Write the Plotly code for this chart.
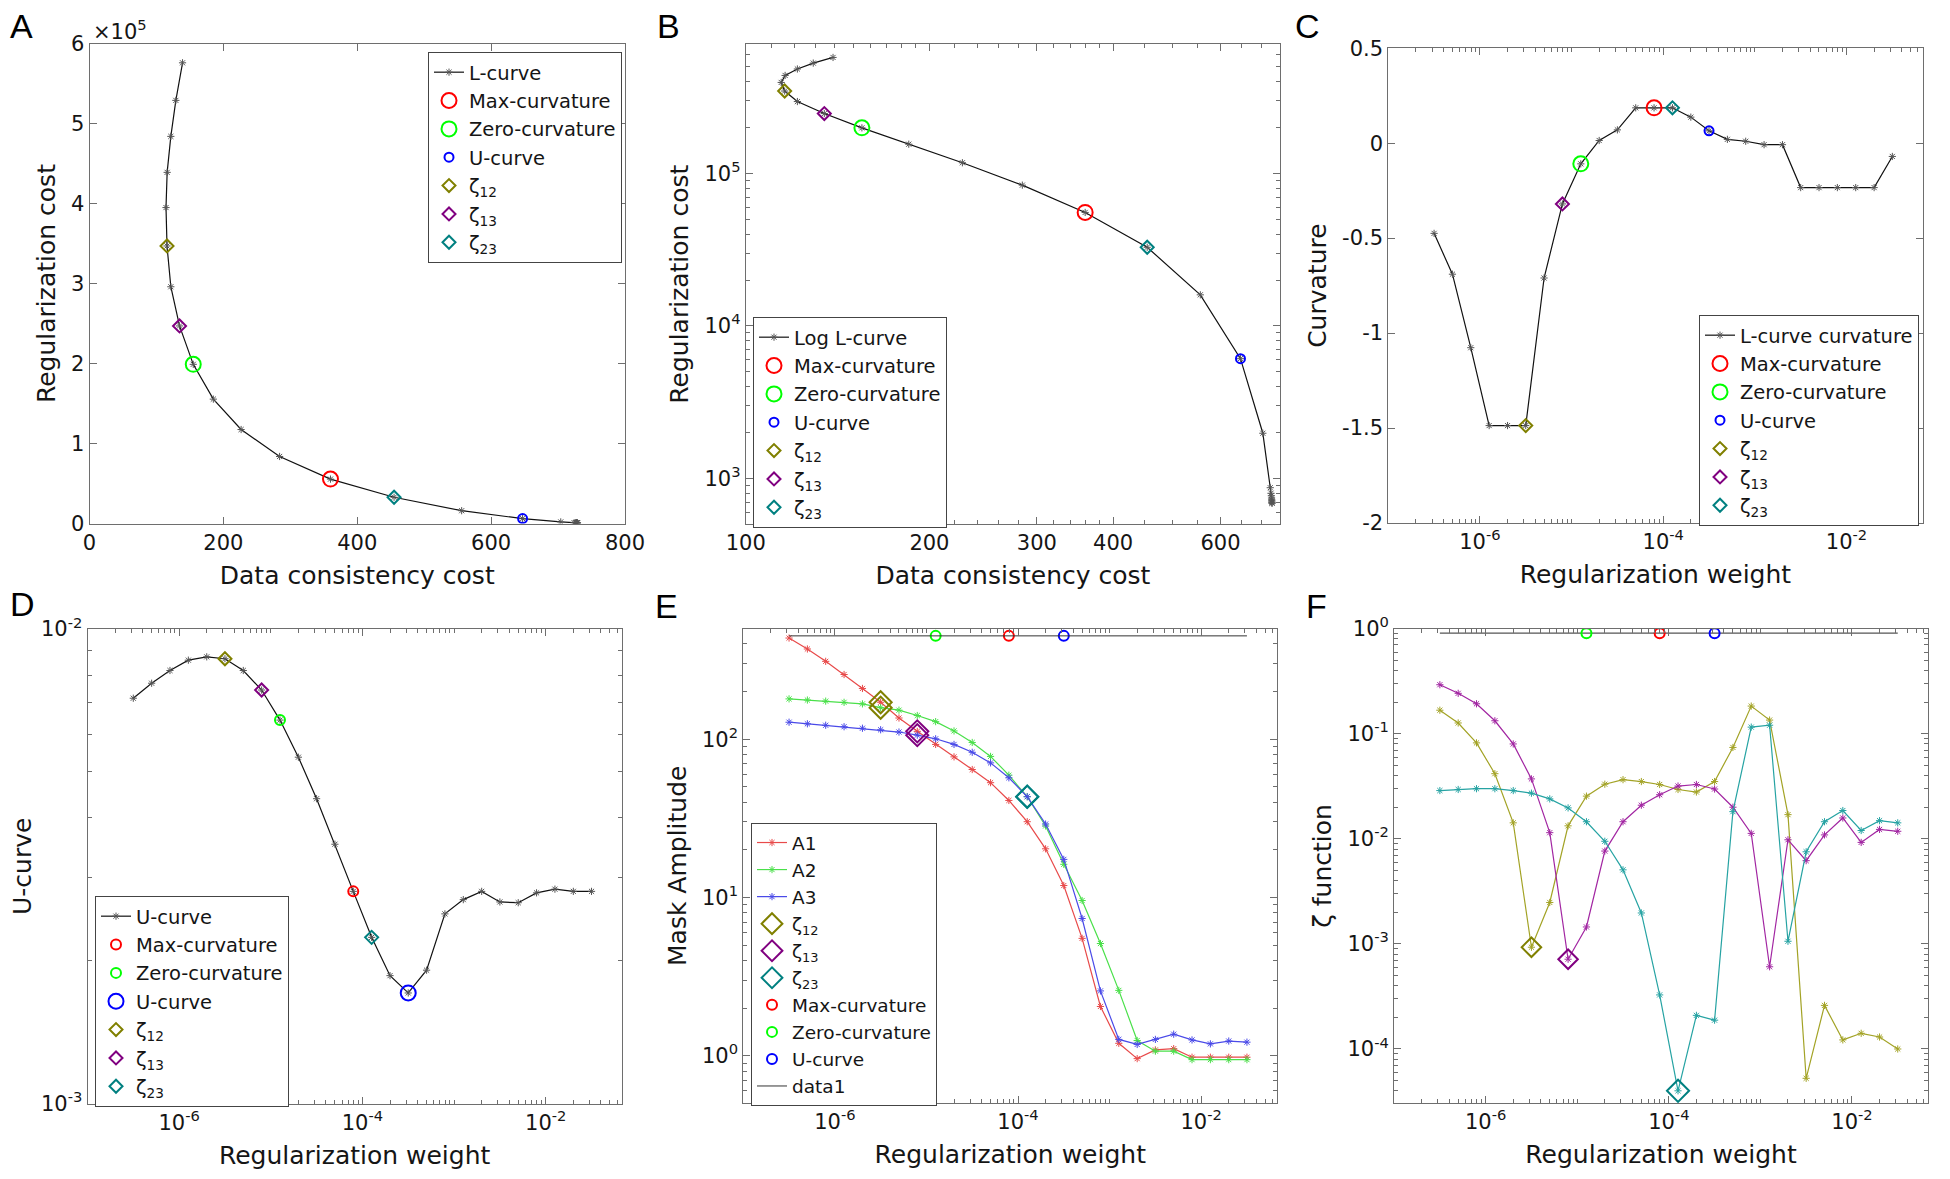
import plotly.graph_objects as go

# ---------------- data ----------------
reg_weight = [3.16e-7, 5.01e-7, 7.94e-7, 1.26e-6, 2.00e-6, 3.16e-6, 5.01e-6, 7.94e-6,
              1.26e-5, 2.00e-5, 3.16e-5, 5.01e-5, 7.94e-5, 1.26e-4, 2.00e-4, 3.16e-4,
              5.01e-4, 7.94e-4, 1.26e-3, 2.00e-3, 3.16e-3, 5.01e-3, 7.94e-3, 1.26e-2,
              2.00e-2, 3.16e-2]

data_cost = [139, 129, 121.5, 116, 114.3, 115.8, 121.5, 134.5, 155, 185, 226.5, 284,
             360, 455, 556, 647, 704, 724, 726, 727, 727.5, 728, 728, 728.5, 728.5, 729]
reg_cost = [5.76e5, 5.29e5, 4.84e5, 4.39e5, 3.95e5, 3.47e5, 2.96e5, 2.47e5, 1.99e5,
            1.555e5, 1.175e5, 8.38e4, 5.55e4, 3.28e4, 1.60e4, 6.1e3, 1.98e3, 870, 800,
            770, 745, 725, 712, 700, 692, 688]

curvature = [-0.475, -0.69, -1.077, -1.487, -1.487, -1.487, -0.71, -0.32, -0.109, 0.014,
             0.07, 0.186, 0.186, 0.186, 0.137, 0.065, 0.02, 0.01, -0.008, -0.008,
             -0.234, -0.234, -0.234, -0.234, -0.234, -0.07]

u_curve = [7.15e-3, 7.69e-3, 8.18e-3, 8.60e-3, 8.74e-3, 8.66e-3, 8.18e-3, 7.44e-3,
           6.43e-3, 5.37e-3, 4.39e-3, 3.52e-3, 2.80e-3, 2.24e-3, 1.86e-3, 1.71e-3,
           1.91e-3, 2.51e-3, 2.69e-3, 2.80e-3, 2.66e-3, 2.65e-3, 2.78e-3, 2.83e-3,
           2.80e-3, 2.80e-3]

amp_A1 = [435, 371, 310, 256, 209, 171, 136, 112, 92.6, 77.3, 64.3, 53.1, 41.0, 30.1,
          20.3, 11.9, 5.52, 2.05, 1.2, 0.96, 1.09, 1.11, 0.98, 0.98, 0.98, 0.98]
amp_A2 = [179.6, 176.6, 173.8, 170.8, 167, 158, 152.4, 141, 129, 112.7, 95.3, 77.8,
          59.2, 43.3, 28.3, 16.2, 9.57, 5.12, 2.59, 1.25, 1.07, 1.07, 0.946, 0.946,
          0.946, 0.946]
amp_A3 = [127.9, 125, 122.4, 119.8, 117.2, 114.6, 110.9, 106, 100.5, 92.6, 82.6, 70.8,
          57, 43.3, 29.1, 17.4, 7.37, 2.57, 1.27, 1.18, 1.27, 1.37, 1.26, 1.19, 1.24,
          1.22]

zeta_12 = [0.1676, 0.1267, 0.0819, 0.0417, 0.0142, 9.3e-4, 2.48e-3, 0.0133, 0.0255,
           0.0331, 0.0366, 0.0351, 0.0329, 0.0295, 0.0279, 0.0351, 0.0741, 0.1835,
           0.135, 0.0170, 5.26e-5, 2.6e-4, 1.22e-4, 1.41e-4, 1.30e-4, 1.0e-4]
zeta_13 = [0.293, 0.2426, 0.193, 0.133, 0.08, 0.0372, 0.01145, 7.15e-4, 1.45e-3,
           7.65e-3, 0.01455, 0.0209, 0.0263, 0.0318, 0.0329, 0.0298, 0.02, 0.01127,
           6.06e-4, 9.8e-3, 6.2e-3, 0.0109, 0.0158, 9.25e-3, 0.0123, 0.0118]
zeta_23 = [0.0288, 0.0295, 0.030, 0.030, 0.0288, 0.0272, 0.024, 0.0197, 0.01455,
           9.48e-3, 5.07e-3, 1.97e-3, 3.27e-4, 4.0e-5, 2.09e-4, 1.88e-4, 0.01815,
           0.1157, 0.1206, 1.06e-3, 7.53e-3, 0.01455, 0.0186, 0.012, 0.0149, 0.0142]

data1_E = 449
data1_F = 0.906

# indices of the selected regularization weights
idx_max_curv = 12
idx_zero_curv = 8
idx_ucurve = 15
idx_z12 = 5
idx_z13 = 7
idx_z23 = 13

# tick labels
a_y_ticks = [0, 1e5, 2e5, 3e5, 4e5, 5e5, 6e5]
a_y_text = ["0", "1", "2", "3", "4", "5", "6"]
a_x_ticks = [0, 200, 400, 600, 800]
b_x_ticks = [100, 200, 300, 400, 600]
b_y_ticks = [1e3, 1e4, 1e5]
b_y_text = ["10<sup>3</sup>", "10<sup>4</sup>", "10<sup>5</sup>"]
w_ticks = [1e-6, 1e-4, 1e-2]
w_text = ["10<sup>-6</sup>", "10<sup>-4</sup>", "10<sup>-2</sup>"]
c_y_ticks = [0.5, 0, -0.5, -1, -1.5, -2]
c_y_text = ["0.5", "0", "-0.5", "-1", "-1.5", "-2"]
d_y_ticks = [1e-3, 1e-2]
d_y_text = ["10<sup>-3</sup>", "10<sup>-2</sup>"]
e_y_ticks = [1, 10, 100]
e_y_text = ["10<sup>0</sup>", "10<sup>1</sup>", "10<sup>2</sup>"]
f_y_ticks = [1e-4, 1e-3, 1e-2, 1e-1, 1]
f_y_text = ["10<sup>-4</sup>", "10<sup>-3</sup>", "10<sup>-2</sup>", "10<sup>-1</sup>", "10<sup>0</sup>"]

# ---------------- styles ----------------
FONT = "DejaVu Sans"
TXT = "#151515"
FRAME = "#6e6e6e"
RED, GREEN, BLUE = "#ff0000", "#00ff00", "#0000ff"
OLIVE, PURPLE, TEAL = "#808000", "#800080", "#008080"
OFF = 8                      # page body margin of the html page
W, H = 1950 - OFF, 1179 - OFF


def logminor(lo_exp, hi_exp):
    vals = []
    for e in range(lo_exp, hi_exp + 1):
        for m in range(1, 10):
            vals.append(m * 10.0 ** e)
    return vals


def lin_minor():
    return list(range(110, 200, 10)) + list(range(220, 400, 20)) + list(range(450, 800, 50))


def ax(domain, title, **kw):
    d = dict(domain=domain, showline=True, linecolor=FRAME, linewidth=1, mirror="ticks",
             ticks="inside", ticklen=7, tickcolor=FRAME, tickwidth=1, automargin=False,
             tickfont=dict(size=21, family=FONT, color=TXT), showgrid=False, zeroline=False,
             title=dict(text=title, font=dict(size=25, family=FONT, color=TXT)))
    d.update(kw)
    return d


def minor(vals):
    return dict(tickmode="array", tickvals=vals, ticks="inside", ticklen=4,
                tickcolor=FRAME, showgrid=False)


fig = go.Figure()


def curve(x, y, name, xa, ya, leg, color="#111111", mcolor="#555555", show=True):
    fig.add_trace(go.Scatter(x=x, y=y, name=name, mode="lines+markers",
                             line=dict(color=color, width=1.2),
                             marker=dict(symbol="asterisk-open", size=6, color=mcolor,
                                         line=dict(color=mcolor, width=1)),
                             xaxis=xa, yaxis=ya, legend=leg, showlegend=show))


def point(x, y, name, xa, ya, leg, symbol, color, size, show=True):
    fig.add_trace(go.Scatter(x=x, y=y, name=name, mode="markers",
                             marker=dict(symbol=symbol, size=size, color=color,
                                         line=dict(color=color, width=2)),
                             xaxis=xa, yaxis=ya, legend=leg, showlegend=show))


def marks_standard(xs, ys, xa, ya, leg, big_circ, small_circ, dsize, ubig=False):
    point([xs[idx_max_curv]], [ys[idx_max_curv]], "Max-curvature", xa, ya, leg,
          "circle-open", RED, small_circ if ubig else big_circ)
    point([xs[idx_zero_curv]], [ys[idx_zero_curv]], "Zero-curvature", xa, ya, leg,
          "circle-open", GREEN, small_circ if ubig else big_circ)
    point([xs[idx_ucurve]], [ys[idx_ucurve]], "U-curve", xa, ya, leg,
          "circle-open", BLUE, big_circ if ubig else small_circ)
    point([xs[idx_z12]], [ys[idx_z12]], "ζ<sub>12</sub>", xa, ya, leg, "diamond-open", OLIVE, dsize)
    point([xs[idx_z13]], [ys[idx_z13]], "ζ<sub>13</sub>", xa, ya, leg, "diamond-open", PURPLE, dsize)
    point([xs[idx_z23]], [ys[idx_z23]], "ζ<sub>23</sub>", xa, ya, leg, "diamond-open", TEAL, dsize)


# Panel A
curve(data_cost, reg_cost, "L-curve", "x", "y", "legend")
marks_standard(data_cost, reg_cost, "x", "y", "legend", 15, 9, 10)
# Panel B
curve(data_cost, reg_cost, "Log L-curve", "x2", "y2", "legend2")
marks_standard(data_cost, reg_cost, "x2", "y2", "legend2", 15, 9, 10)
# Panel C
curve(reg_weight, curvature, "L-curve curvature", "x3", "y3", "legend3")
marks_standard(reg_weight, curvature, "x3", "y3", "legend3", 15, 9, 10)
# Panel D
curve(reg_weight, u_curve, "U-curve", "x4", "y4", "legend4")
marks_standard(reg_weight, u_curve, "x4", "y4", "legend4", 15, 10, 10, ubig=True)

# Panel E
curve(reg_weight, amp_A1, "A1", "x5", "y5", "legend5", color="#e84a4a", mcolor="#e84a4a")
curve(reg_weight, amp_A2, "A2", "x5", "y5", "legend5", color="#4ae04a", mcolor="#4ae04a")
curve(reg_weight, amp_A3, "A3", "x5", "y5", "legend5", color="#4a4ae8", mcolor="#4a4ae8")
point([reg_weight[idx_z12]] * 2, [amp_A1[idx_z12], amp_A2[idx_z12]], "ζ<sub>12</sub>",
      "x5", "y5", "legend5", "diamond-open", OLIVE, 17)
point([reg_weight[idx_z13]] * 2, [amp_A1[idx_z13], amp_A3[idx_z13]], "ζ<sub>13</sub>",
      "x5", "y5", "legend5", "diamond-open", PURPLE, 17)
point([reg_weight[idx_z23]] * 2, [amp_A2[idx_z23], amp_A3[idx_z23]], "ζ<sub>23</sub>",
      "x5", "y5", "legend5", "diamond-open", TEAL, 17)
point([reg_weight[idx_max_curv]], [data1_E], "Max-curvature", "x5", "y5", "legend5",
      "circle-open", RED, 10)
point([reg_weight[idx_zero_curv]], [data1_E], "Zero-curvature", "x5", "y5", "legend5",
      "circle-open", GREEN, 10)
point([reg_weight[idx_ucurve]], [data1_E], "U-curve", "x5", "y5", "legend5",
      "circle-open", BLUE, 10)
fig.add_trace(go.Scatter(x=[reg_weight[0], reg_weight[-1]], y=[data1_E, data1_E], name="data1",
                         mode="lines", line=dict(color="#333333", width=1),
                         xaxis="x5", yaxis="y5", legend="legend5"))

# Panel F
curve(reg_weight, zeta_12, "ζ12", "x6", "y6", "legend", color="#a3a326", mcolor="#a3a326", show=False)
curve(reg_weight, zeta_13, "ζ13", "x6", "y6", "legend", color="#a226a2", mcolor="#a226a2", show=False)
curve(reg_weight, zeta_23, "ζ23", "x6", "y6", "legend", color="#26a3a3", mcolor="#26a3a3", show=False)
fig.add_trace(go.Scatter(x=[reg_weight[0], reg_weight[-1]], y=[data1_F, data1_F], mode="lines",
                         line=dict(color="#555555", width=1.2), xaxis="x6", yaxis="y6",
                         showlegend=False))
point([reg_weight[idx_z12]], [zeta_12[idx_z12]], "z12", "x6", "y6", "legend", "diamond-open", OLIVE, 15, show=False)
point([reg_weight[idx_z13]], [zeta_13[idx_z13]], "z13", "x6", "y6", "legend", "diamond-open", PURPLE, 15, show=False)
point([reg_weight[idx_z23]], [zeta_23[idx_z23]], "z23", "x6", "y6", "legend", "diamond-open", TEAL, 17, show=False)
point([reg_weight[idx_zero_curv]], [data1_F], "zc", "x6", "y6", "legend", "circle-open", GREEN, 10, show=False)
point([reg_weight[idx_max_curv]], [data1_F], "mc", "x6", "y6", "legend", "circle-open", RED, 10, show=False)
point([reg_weight[idx_ucurve]], [data1_F], "uc", "x6", "y6", "legend", "circle-open", BLUE, 10, show=False)


# ---------------- layout (positions given in window pixels) ----------------
def fx(x):
    return (x - OFF) / W


def fy(y):
    return 1 - (y - OFF) / H


def px(xl, xr):
    return [fx(xl), fx(xr)]


def py(top, bot):
    return [fy(bot), fy(top)]


w_minor = logminor(-7, -2)
w_range = [-7, -1.17]

legend_common = dict(bgcolor="white", bordercolor="#444444", borderwidth=1,
                     font=dict(size=19.5, family=FONT, color=TXT), itemwidth=30,
                     xanchor="left", yanchor="top", tracegroupgap=0)

fig.update_layout(
    width=W, height=H, margin=dict(l=0, r=0, t=0, b=0, autoexpand=False),
    paper_bgcolor="white", plot_bgcolor="white",
    font=dict(family=FONT, color=TXT),
    xaxis=ax(px(89.5, 625), "Data consistency cost", range=[0, 800], tickmode="array",
             tickvals=a_x_ticks, anchor="y"),
    yaxis=ax(py(43.6, 523.5), "Regularization cost", range=[0, 6e5], tickmode="array",
             tickvals=a_y_ticks, ticktext=a_y_text, anchor="x"),
    xaxis2=ax(px(745.8, 1280), "Data consistency cost", type="log", range=[2, 2.8757],
              tickmode="array", tickvals=b_x_ticks, ticktext=[str(v) for v in b_x_ticks],
              minor=minor(lin_minor()), anchor="y2"),
    yaxis2=ax(py(44.4, 524), "Regularization cost", type="log", range=[2.7016, 5.846],
              tickmode="array", tickvals=b_y_ticks, ticktext=b_y_text,
              minor=minor(logminor(2, 5)), anchor="x2"),
    xaxis3=ax(px(1388.3, 1922.6), "Regularization weight", type="log", range=w_range,
              tickmode="array", tickvals=w_ticks, ticktext=w_text, minor=minor(w_minor),
              anchor="y3"),
    yaxis3=ax(py(48.2, 523), "Curvature", range=[-2, 0.5], tickmode="array",
              tickvals=c_y_ticks, ticktext=c_y_text, anchor="x3"),
    xaxis4=ax(px(87.5, 621.8), "Regularization weight", type="log", range=w_range,
              tickmode="array", tickvals=w_ticks, ticktext=w_text, minor=minor(w_minor),
              anchor="y4"),
    yaxis4=ax(py(629.1, 1103.5), "U-curve", type="log", range=[-3, -2], tickmode="array",
              tickvals=d_y_ticks, ticktext=d_y_text, minor=minor(logminor(-3, -3)),
              anchor="x4"),
    xaxis5=ax(px(743.3, 1277.2), "Regularization weight", type="log", range=w_range,
              tickmode="array", tickvals=w_ticks, ticktext=w_text, minor=minor(w_minor),
              anchor="y5"),
    yaxis5=ax(py(628.7, 1102.8), "Mask Amplitude", type="log", range=[-0.2966, 2.6975],
              tickmode="array", tickvals=e_y_ticks, ticktext=e_y_text,
              minor=minor(logminor(-1, 2)), anchor="x5"),
    xaxis6=ax(px(1394.1, 1928), "Regularization weight", type="log", range=w_range,
              tickmode="array", tickvals=w_ticks, ticktext=w_text, minor=minor(w_minor),
              anchor="y6"),
    yaxis6=ax(py(628.7, 1103.1), "ζ function", type="log", range=[-4.515, 0],
              tickmode="array", tickvals=f_y_ticks, ticktext=f_y_text,
              minor=minor(logminor(-5, -1)), anchor="x6"),
    legend=dict(legend_common, x=fx(428), y=fy(52)),
    legend2=dict(legend_common, x=fx(753), y=fy(317)),
    legend3=dict(legend_common, x=fx(1699), y=fy(315)),
    legend4=dict(legend_common, x=fx(95), y=fy(896)),
    legend5=dict(legend_common, x=fx(751), y=fy(823), font=dict(size=18.5, family=FONT, color=TXT)),
)

for ax_name in ["xaxis", "xaxis2", "xaxis3", "xaxis4", "xaxis5", "xaxis6"]:
    fig.layout[ax_name].title.standoff = 12
for ax_name in ["yaxis", "yaxis2", "yaxis3", "yaxis4", "yaxis5", "yaxis6"]:
    fig.layout[ax_name].title.standoff = 8

letters = [("A", 8, 26), ("B", 655, 26), ("C", 1293, 26), ("D", 8, 604), ("E", 653, 606),
           ("F", 1304, 606)]
for txt, lx, ly in letters:
    fig.add_annotation(text=txt, x=fx(lx), y=fy(ly), xref="paper", yref="paper",
                       xanchor="left", yanchor="middle", showarrow=False,
                       font=dict(size=34, family="Liberation Sans", color="#000000"))

fig.add_annotation(text="×10<sup>5</sup>", x=fx(91), y=fy(30), xref="paper", yref="paper",
                   xanchor="left", yanchor="middle", showarrow=False,
                   font=dict(size=21, family=FONT, color=TXT))

fig.write_html("out.html")
